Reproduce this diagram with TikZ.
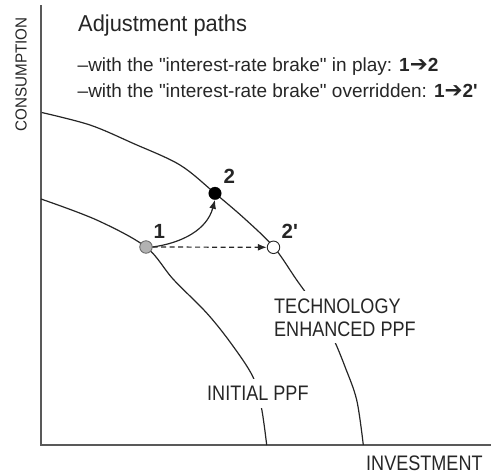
\documentclass[tikz,border=0pt]{standalone}
\usepackage{fontspec}
\setmainfont{Liberation Sans}
\newfontfamily\symfont{DejaVu Sans}
\newfontfamily\lblfont[FakeStretch=0.86]{Liberation Sans}
\newfontfamily\ttlfont[FakeStretch=0.95]{Liberation Sans}
\newcommand{\heavyarrow}{{\symfont\fontsize{21.5}{22}\selectfont ➔}}
\usetikzlibrary{arrows.meta}
\begin{document}
\begin{tikzpicture}[x=1pt,y=-1pt,
  txt/.style={inner sep=0pt, text=black!85},
  lbl/.style={txt, fill=white, inner xsep=2pt, inner ysep=7pt, font=\lblfont\fontsize{21}{23}\selectfont},
  axisline/.style={draw=black!65, line width=1.6pt},
  ppf/.style={draw=black!85, line width=1.2pt},
  ptgray/.style={circle, minimum size=12.5pt, inner sep=0pt, fill=black!30, draw=black!60, line width=0.8pt},
  ptblack/.style={circle, minimum size=12.5pt, inner sep=0pt, fill=black, draw=black},
  ptwhite/.style={circle, minimum size=12.5pt, inner sep=0pt, fill=white, draw=black!85, line width=0.9pt},
  ptlabel/.style={txt, anchor=base west, font=\bfseries\fontsize{20.5}{22}\selectfont},
  tip/.style={-{Latex[length=9pt,width=7pt]}},
  path/.style={draw=black!85, line width=1.2pt}]
\useasboundingbox (0,0) rectangle (491,475);

% axes
\coordinate (ytop) at (41,5);
\coordinate (orig) at (41,445);
\coordinate (xend) at (491,445);
\draw[axisline] (ytop) -- (orig) -- (xend);

% frontiers
\draw[ppf] plot[smooth, tension=0.55] coordinates {(41,199) (96.7,220) (146,247) (173,279) (206.7,313) (231.5,344) (253,377) (261.5,408) (266.7,445)};
\draw[ppf] plot[smooth, tension=0.55] coordinates {(41.7,112.5) (90,125) (133,143.3) (180,165) (215,193.3) (245,219) (274,247.3) (296.7,280) (320,313) (334,340) (345,366.7) (356.7,400) (363.3,445)};

% labels that interrupt the curves
\node[lbl, anchor=base west] (initial) at (205,400.7) {INITIAL PPF};
\node[lbl, anchor=base west, align=left] (tech) at (272,336) {TECHNOLOGY\\ENHANCED PPF};

% axis titles
\node[txt, anchor=base west, font=\lblfont\fontsize{21}{23}\selectfont] (xlab) at (366,470) {INVESTMENT};
\node[txt, rotate=90, anchor=base west, font=\ttlfont\fontsize{16}{18}\selectfont] (ylab) at (26.7,131.7) {CONSUMPTION};

% heading
\node[txt, anchor=base west, font=\ttlfont\fontsize{23}{26}\selectfont] (title) at (78,31.7) {Adjustment paths};
\node[txt, anchor=base west, font=\fontsize{19}{22}\selectfont] (line1) at (77.5,71) {–with the \textquotedbl interest-rate brake\textquotedbl{} in play: {\bfseries 1}\heavyarrow{\bfseries 2}};
\node[txt, anchor=base west, font=\fontsize{19}{22}\selectfont] (line2) at (77.5,97.3) {–with the \textquotedbl interest-rate brake\textquotedbl{} overridden: {\bfseries 1}\heavyarrow{\bfseries 2\textquotesingle}};

% points
\node[ptgray] (p1) at (146,247) {};
\node[ptblack] (p2) at (215,193.3) {};
\node[ptwhite] (p2b) at (273.5,247.3) {};
\node[ptlabel] (l1) at (153.5,238.3) {1};
\node[ptlabel] (l2) at (223.5,183.3) {2};
\node[ptlabel] (l2b) at (281.5,238.3) {2\textquotesingle};

% adjustment paths
\draw[path, tip] (p1.east) to[out=8,in=-105] (p2.south);
\draw[path, tip, dash pattern=on 5pt off 3.5pt] (p1.east) -- (p2b.west);
\end{tikzpicture}
\end{document}
